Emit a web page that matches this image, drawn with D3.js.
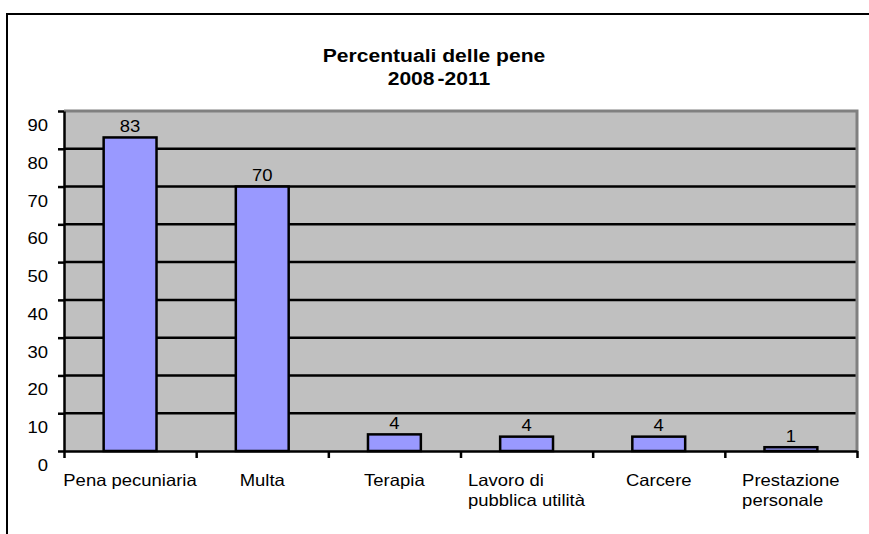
<!DOCTYPE html>
<html>
<head>
<meta charset="utf-8">
<script src="https://cdn.jsdelivr.net/npm/d3@7"></script>
<style>
  html, body { margin: 0; padding: 0; background: #fff; }
  svg { display: block; font-family: "Liberation Sans", Arial, sans-serif; }
</style>
</head>
<body>
<div class="chart"></div>
<script>
// Data
const categories = [
  ['Pena pecuniaria'],
  ['Multa'],
  ['Terapia'],
  ['Lavoro di', 'pubblica utilità'],
  ['Carcere'],
  ['Prestazione', 'personale']
]
const values = [83, 70, 4.4, 3.8, 3.8, 1]
const valueLabels = ['83', '70', '4', '4', '4', '1']
const yTicks = [0, 10, 20, 30, 40, 50, 60, 70, 80, 90]
const titleLines = ['Percentuali delle pene', '2008 -2011']

const width = 869
const height = 534
const stretch = 1.12  // the picture is a bit wider than normal text

const plot = { left: 64, right: 857, top: 111, bottom: 451 }

const svg = d3.select('.chart')
  .append('svg')
  .attr('width', width)
  .attr('height', height)

// outer chart frame (runs past the right and bottom edge)
svg.append('rect')
  .attr('x', 7).attr('y', 14)
  .attr('width', 900).attr('height', 600)
  .attr('fill', '#fff')
  .attr('stroke', '#000')
  .attr('stroke-width', 2)

const x = d3.scaleBand()
  .domain(d3.range(categories.length))
  .range([plot.left, plot.right])
  .paddingInner(0.6)
  .paddingOuter(0.3)

const xEdges = d3.scaleLinear()
  .domain([0, categories.length])
  .range([plot.left, plot.right])

const y = d3.scaleLinear()
  .domain([0, 90])
  .range([plot.bottom, plot.top])

// plot background
svg.append('rect')
  .attr('x', plot.left).attr('y', plot.top)
  .attr('width', plot.right - plot.left)
  .attr('height', plot.bottom - plot.top)
  .attr('fill', '#c0c0c0')

// gridlines
svg.append('g')
  .selectAll('line')
  .data(yTicks.filter(d => d > 0 && d < 90))
  .enter()
  .append('line')
  .attr('x1', plot.left).attr('x2', plot.right)
  .attr('y1', d => y(d)).attr('y2', d => y(d))
  .attr('stroke', '#000')
  .attr('stroke-width', 2.5)

// gray plot border (top and right)
svg.append('path')
  .attr('d', `M${plot.left},${plot.top}H${plot.right}V${plot.bottom}`)
  .attr('fill', 'none')
  .attr('stroke', '#808080')
  .attr('stroke-width', 3)

// bars
svg.append('g')
  .selectAll('rect')
  .data(values)
  .enter()
  .append('rect')
  .attr('x', (d, i) => x(i))
  .attr('y', d => y(d))
  .attr('width', x.bandwidth())
  .attr('height', d => y(0) - y(d))
  .attr('fill', '#9999ff')
  .attr('stroke', '#000')
  .attr('stroke-width', 2.5)

// value labels
svg.append('g')
  .selectAll('text')
  .data(values)
  .enter()
  .append('text')
  .attr('transform', (d, i) => `translate(${x(i) + x.bandwidth() / 2},${y(d) - 5.5}) scale(${stretch},1)`)
  .attr('text-anchor', 'middle')
  .style('font-size', '16.5px')
  .style('fill', '#000')
  .text((d, i) => valueLabels[i])

// y axis
const yAxis = svg.append('g')
  .attr('transform', `translate(${plot.left},0)`)
  .call(d3.axisLeft(y).tickValues(yTicks).tickSize(6).tickSizeOuter(0))

yAxis.select('.domain').attr('stroke', '#000').attr('stroke-width', 2.5)
yAxis.selectAll('.tick line').attr('stroke', '#000').attr('stroke-width', 2.5)
yAxis.selectAll('.tick text')
  .attr('x', -16 / stretch)
  .attr('dy', 19.5)
  .attr('transform', `scale(${stretch},1)`)
  .style('font-size', '16.5px')
  .style('font-family', '"Liberation Sans", Arial, sans-serif')
  .style('fill', '#000')

// x axis, ticks on the category edges
const xAxis = svg.append('g')
  .attr('transform', `translate(0,${plot.bottom})`)
  .call(d3.axisBottom(xEdges).tickValues(d3.range(categories.length + 1)).tickSize(7).tickSizeOuter(0).tickFormat(''))

xAxis.select('.domain').attr('stroke', '#000').attr('stroke-width', 2.5)
xAxis.selectAll('.tick line').attr('stroke', '#000').attr('stroke-width', 2.5)

// category labels: block centred, lines left aligned
const catGroups = svg.append('g')
  .selectAll('text')
  .data(categories)
  .enter()
  .append('text')
  .style('font-size', '16.5px')
  .style('fill', '#000')

catGroups.each(function (lines, i) {
  const t = d3.select(this)
  lines.forEach((line, j) => {
    t.append('tspan')
      .attr('x', 0)
      .attr('y', j * 20)
      .text(line)
  })
  let w = 0
  t.selectAll('tspan').each(function () {
    w = Math.max(w, this.getComputedTextLength())
  })
  const cx = x(i) + x.bandwidth() / 2
  t.attr('transform', `translate(${cx - (w * stretch) / 2},486) scale(${stretch},1)`)
})

// title
svg.append('g')
  .selectAll('text')
  .data(titleLines)
  .enter()
  .append('text')
  .attr('transform', (d, i) => `translate(${434 + i * 5},${61.5 + i * 23.5}) scale(1.14,1)`)
  .attr('text-anchor', 'middle')
  .style('font-size', '18.5px')
  .style('font-weight', 'bold')
  .style('word-spacing', (d, i) => i === 1 ? '-2.5px' : '0px')
  .style('fill', '#000')
  .text(d => d)
</script>
</body>
</html>
